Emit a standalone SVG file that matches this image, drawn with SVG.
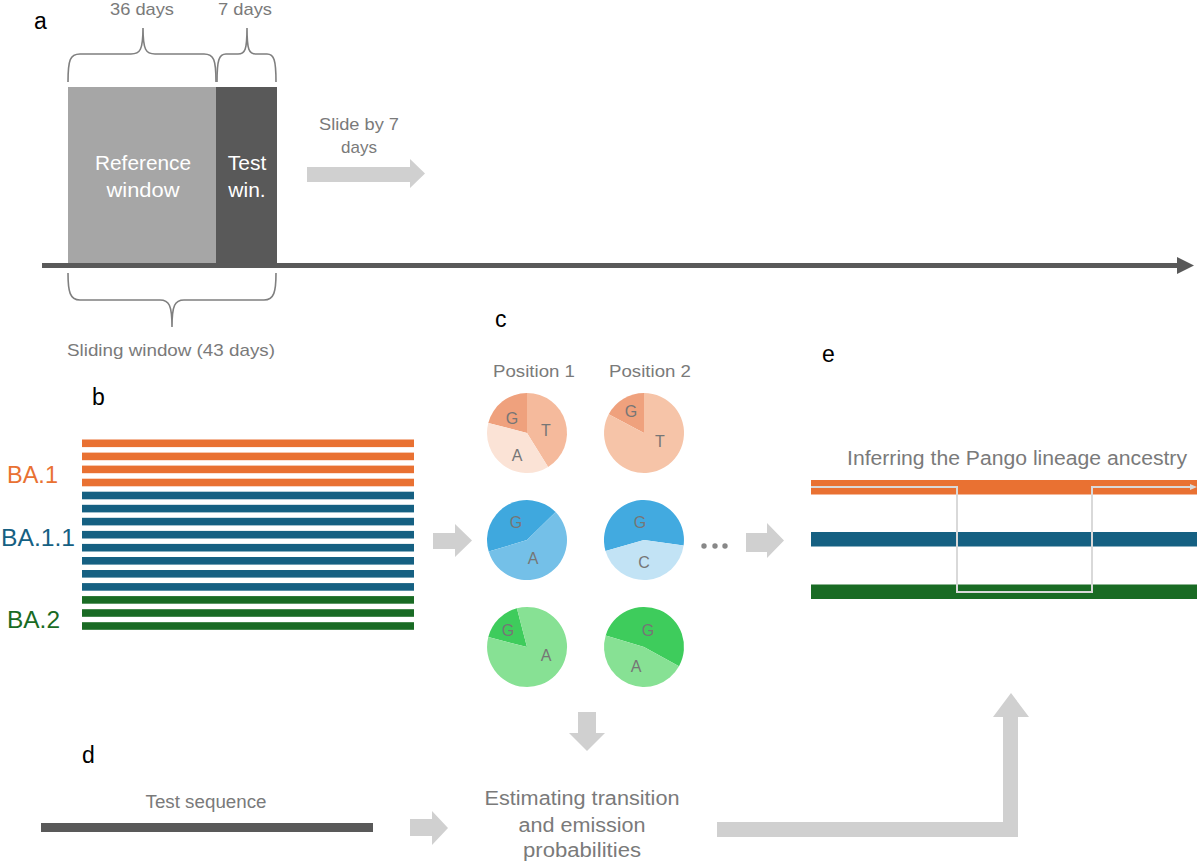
<svg xmlns="http://www.w3.org/2000/svg" width="1200" height="866" viewBox="0 0 1200 866">
<style>
.lbl{font-family:"Liberation Sans",Arial,sans-serif;font-size:23px;fill:#000}
.g{font-family:"Liberation Sans",Arial,sans-serif;fill:#7a7a7a}
.w{font-family:"Liberation Sans",Arial,sans-serif;fill:#fff;font-size:21px;text-anchor:middle}
.brace{fill:none;stroke:#7f7f7f;stroke-width:1.6}
.arr{fill:#d0d0d0;stroke:none}
.nuc{font-family:"Liberation Sans",Arial,sans-serif;font-size:16px;fill:#767676;text-anchor:middle}
.or{fill:#e97132}.bl{fill:#156082}.gr{fill:#196b24}
</style>
<rect width="1200" height="866" fill="#fff"/>

<g id="panel-a">
  <text class="lbl" x="34" y="29">a</text>
  <text class="g" x="142" y="15" font-size="17" text-anchor="middle" textLength="64" lengthAdjust="spacingAndGlyphs">36 days</text>
  <text class="g" x="245" y="15" font-size="17" text-anchor="middle" textLength="54" lengthAdjust="spacingAndGlyphs">7 days</text>
  <path class="brace" d="M68,82 C68,60 70,54 80,54 L131,54 C140,54 143,50 143,28 C143,50 146,54 155,54 L204,54 C214,54 216,60 216,82"/>
  <path class="brace" d="M217,82 C217,60 219,54 226,54 L238,54 C245,54 247,50 247,28 C247,50 249,54 256,54 L267,54 C274,54 276,60 276,82"/>
  <g id="reference-window">
    <rect x="68" y="87" width="148" height="178" fill="#a6a6a6"/>
    <text class="w" x="143" y="170" textLength="96" lengthAdjust="spacingAndGlyphs">Reference</text>
    <text class="w" x="143" y="197" textLength="73" lengthAdjust="spacingAndGlyphs">window</text>
  </g>
  <g id="test-window">
    <rect x="216" y="87" width="61" height="178" fill="#595959"/>
    <text class="w" x="247" y="170">Test</text>
    <text class="w" x="247" y="197">win.</text>
  </g>
  <g id="timeline">
    <line x1="42" y1="265.5" x2="1180" y2="265.5" stroke="#595959" stroke-width="5"/>
    <polygon points="1177,257 1194,265.5 1177,274" fill="#595959"/>
  </g>
  <path class="brace" d="M68,273 C68,292 70,300 80,300 L160,300 C169,300 172,305 172,327 C172,305 175,300 184,300 L264,300 C274,300 276,292 276,273"/>
  <text class="g" x="171" y="356" font-size="17" text-anchor="middle" textLength="208" lengthAdjust="spacingAndGlyphs">Sliding window (43 days)</text>
  <g id="slide-label">
    <text class="g" x="359" y="130" font-size="17" text-anchor="middle" textLength="80" lengthAdjust="spacingAndGlyphs">Slide by 7</text>
    <text class="g" x="359" y="153" font-size="17" text-anchor="middle">days</text>
  </g>
</g>

<g id="panel-b">
  <text class="lbl" x="92" y="405">b</text>
  <text x="7" y="483" font-family="Liberation Sans, Arial, sans-serif" font-size="23" fill="#e97132" textLength="51" lengthAdjust="spacingAndGlyphs">BA.1</text>
  <text x="1" y="546" font-family="Liberation Sans, Arial, sans-serif" font-size="23" fill="#156082" textLength="74" lengthAdjust="spacingAndGlyphs">BA.1.1</text>
  <text x="7" y="628" font-family="Liberation Sans, Arial, sans-serif" font-size="23" fill="#196b24" textLength="53" lengthAdjust="spacingAndGlyphs">BA.2</text>
  <g id="sequences">
    <rect class="or" x="82" y="439.5" width="332" height="7.6"/>
    <rect class="or" x="82" y="452.6" width="332" height="7.6"/>
    <rect class="or" x="82" y="465.6" width="332" height="7.6"/>
    <rect class="or" x="82" y="478.7" width="332" height="7.6"/>
    <rect class="bl" x="82" y="491.7" width="332" height="7.6"/>
    <rect class="bl" x="82" y="504.8" width="332" height="7.6"/>
    <rect class="bl" x="82" y="517.8" width="332" height="7.6"/>
    <rect class="bl" x="82" y="530.9" width="332" height="7.6"/>
    <rect class="bl" x="82" y="543.9" width="332" height="7.6"/>
    <rect class="bl" x="82" y="557.0" width="332" height="7.6"/>
    <rect class="bl" x="82" y="570.0" width="332" height="7.6"/>
    <rect class="bl" x="82" y="583.1" width="332" height="7.6"/>
    <rect class="gr" x="82" y="596.1" width="332" height="7.6"/>
    <rect class="gr" x="82" y="609.2" width="332" height="7.6"/>
    <rect class="gr" x="82" y="622.2" width="332" height="7.6"/>
  </g>
</g>

<g id="panel-c">
  <text class="lbl" x="495" y="327">c</text>
  <text class="g" x="534" y="377" font-size="17" text-anchor="middle" textLength="82" lengthAdjust="spacingAndGlyphs">Position 1</text>
  <text class="g" x="650" y="377" font-size="17" text-anchor="middle" textLength="82" lengthAdjust="spacingAndGlyphs">Position 2</text>
  <g id="pie-ba1-pos1">
    <path d="M527,433 L488.3,422.9 A40,40 0 0,1 527,393 Z" fill="#efa17d"/>
    <path d="M527,433 L527,393 A40,40 0 0,1 548.1,467 Z" fill="#f5ba9c"/>
    <path d="M527,433 L548.1,467 A40,40 0 0,1 488.3,422.9 Z" fill="#fbe3d6"/>
    <text class="nuc" x="512" y="424">G</text>
    <text class="nuc" x="546" y="436">T</text>
    <text class="nuc" x="517" y="461">A</text>
  </g>
  <g id="pie-ba1-pos2">
    <path d="M644,433 L608.7,414.2 A40,40 0 0,1 644,393 Z" fill="#efa17d"/>
    <path d="M644,433 L644,393 A40,40 0 1,1 608.7,414.2 Z" fill="#f6c4a8"/>
    <text class="nuc" x="631" y="417">G</text>
    <text class="nuc" x="660" y="447">T</text>
  </g>
  <g id="pie-ba11-pos1">
    <path d="M527,540 L488.7,551.6 A40,40 0 0,1 555.6,512.1 Z" fill="#3fa8de"/>
    <path d="M527,540 L555.6,512.1 A40,40 0 1,1 488.7,551.6 Z" fill="#74c0e8"/>
    <text class="nuc" x="516" y="528">G</text>
    <text class="nuc" x="533" y="564">A</text>
  </g>
  <g id="pie-ba11-pos2">
    <path d="M644,540 L605.5,551 A40,40 0 1,1 683.6,545.4 Z" fill="#42aae0"/>
    <path d="M644,540 L683.6,545.4 A40,40 0 0,1 605.5,551 Z" fill="#c2e3f5"/>
    <text class="nuc" x="640" y="528">G</text>
    <text class="nuc" x="644" y="568">C</text>
  </g>
  <g id="pie-ba2-pos1">
    <path d="M527,647 L488.3,637.1 A40,40 0 0,1 516.9,608.3 Z" fill="#3ecc5c"/>
    <path d="M527,647 L516.9,608.3 A40,40 0 1,1 488.3,637.1 Z" fill="#87e194"/>
    <text class="nuc" x="508" y="636">G</text>
    <text class="nuc" x="546" y="661">A</text>
  </g>
  <g id="pie-ba2-pos2">
    <path d="M644,647 L605.7,635.4 A40,40 0 1,1 679,666.3 Z" fill="#3ecc5c"/>
    <path d="M644,647 L679,666.3 A40,40 0 0,1 605.7,635.4 Z" fill="#87e194"/>
    <text class="nuc" x="648" y="636">G</text>
    <text class="nuc" x="636" y="672">A</text>
  </g>
  <g id="ellipsis" fill="#888">
    <circle cx="704" cy="546" r="2.7"/>
    <circle cx="715" cy="546" r="2.7"/>
    <circle cx="725" cy="546" r="2.7"/>
  </g>
</g>

<g id="panel-d">
  <text class="lbl" x="82" y="763">d</text>
  <text class="g" x="206" y="808" font-size="18" text-anchor="middle" textLength="121" lengthAdjust="spacingAndGlyphs">Test sequence</text>
  <rect x="41" y="823" width="332" height="9" fill="#595959"/>
</g>

<g id="estimating">
  <text class="g" x="582" y="805" font-size="20" text-anchor="middle" textLength="195" lengthAdjust="spacingAndGlyphs">Estimating transition</text>
  <text class="g" x="582" y="832" font-size="20" text-anchor="middle" textLength="127" lengthAdjust="spacingAndGlyphs">and emission</text>
  <text class="g" x="582" y="857" font-size="20" text-anchor="middle" textLength="118" lengthAdjust="spacingAndGlyphs">probabilities</text>
</g>

<g id="panel-e">
  <text class="lbl" x="822" y="362">e</text>
  <text class="g" x="847" y="465" font-size="20" textLength="340" lengthAdjust="spacingAndGlyphs">Inferring the Pango lineage ancestry</text>
  <rect class="or" x="811" y="480" width="386" height="14.5"/>
  <rect class="bl" x="811" y="532" width="386" height="14.5"/>
  <rect class="gr" x="811" y="584.5" width="386" height="14.5"/>
  <path d="M811,487 L957,487 L957,592 L1092,592 L1092,487 L1191,487" fill="none" stroke="#d9d9d9" stroke-width="2"/>
  <polygon points="1190,484 1197,487 1190,490" fill="#d9d9d9"/>
</g>

<g id="connectors">
  <polygon class="arr" points="307,167 410,167 410,159 425,173.5 410,188 410,182 307,182"/>
  <polygon class="arr" points="433,533 455,533 455,524 472,540.5 455,557 455,549 433,549"/>
  <polygon class="arr" points="746,533 767,533 767,523 784,540.5 767,558 767,552 746,552"/>
  <polygon class="arr" points="578,712 596,712 596,733 605,733 587,751 569,733 578,733"/>
  <polygon class="arr" points="410,819 432,819 432,811 448,828 432,845 432,836 410,836"/>
  <polygon class="arr" points="717,822 1003,822 1003,717 993,717 1011,693 1029,717 1018,717 1018,837 717,837"/>
</g>
</svg>
